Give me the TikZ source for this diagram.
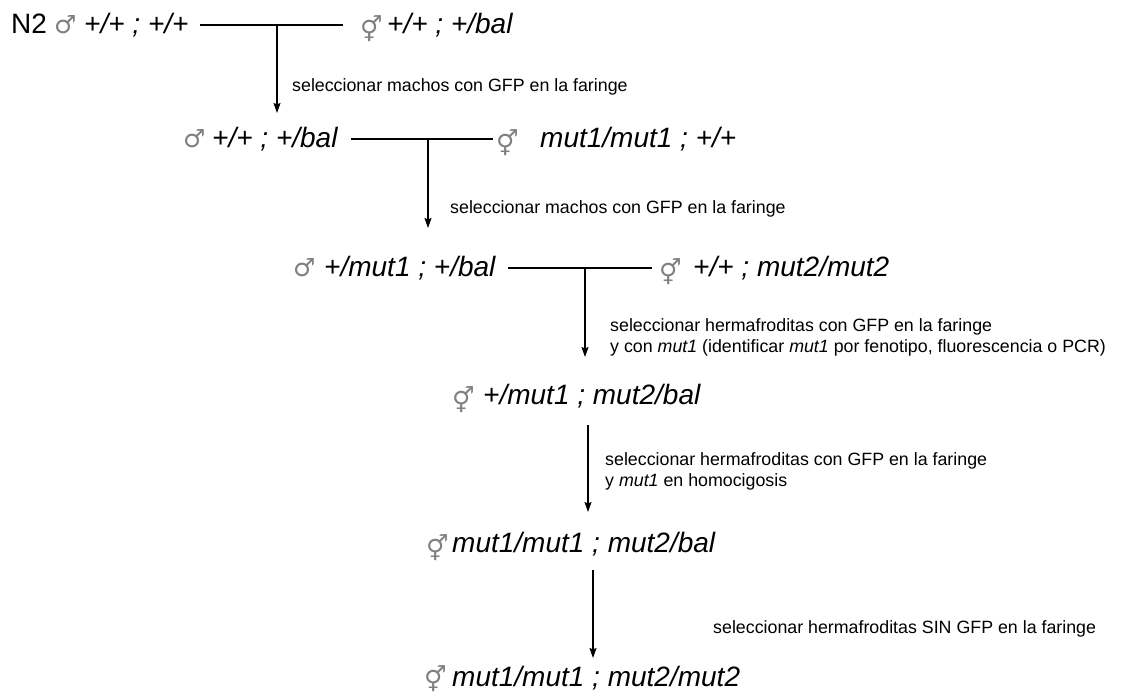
\documentclass[tikz,border=0pt]{standalone}
\usepackage{fontspec}
\setmainfont{Liberation Sans}
\newfontfamily\symfont{DejaVu Sans}
\usetikzlibrary{arrows.meta}
\begin{document}
\begin{tikzpicture}[x=1pt,y=-1pt,
  geno/.style={anchor=base west, inner sep=0pt, font=\fontsize{28}{32}\selectfont\itshape},
  plain/.style={anchor=base west, inner sep=0pt, font=\fontsize{28}{32}\selectfont},
  sexsym/.style={anchor=base west, inner sep=0pt, text=black!50, font=\symfont\fontsize{25}{30}\selectfont},
  hsym/.style={anchor=base west, inner sep=0pt, text=black!50, yshift=-5pt, font=\symfont\fontsize{25}{30}\selectfont},
  lbl/.style={anchor=base west, inner sep=0pt, font=\fontsize{17.8}{21}\selectfont, align=left},
  cross/.style={line width=1.4pt},
  arr/.style={line width=1.4pt, -{Stealth[length=10pt,width=7pt,inset=1.5pt]}}]
\useasboundingbox (0,0) rectangle (1121,696);
% row 1
\node[plain] (n2) at (11,33) {N2};
\node[sexsym] (s1a) at (54,33) {♂};
\node[geno] (g1a) at (84,33) {+/+ ; +/+};
\node[hsym] (s1b) at (360,33) {⚥};
\node[geno] (g1b) at (387,33) {+/+ ; +/bal};
\coordinate (h1l) at (200,25);
\coordinate (h1r) at (343,25);
\coordinate (m1) at (277,25);
\coordinate (t1) at (277,113);
\draw[cross] (h1l) -- (h1r);
\draw[arr] (m1) -- (t1);
\node[lbl] (l1) at (292,91) {seleccionar machos con GFP en la faringe};
% row 2
\node[sexsym] (s2a) at (183,147) {♂};
\node[geno] (g2a) at (212,147) {+/+ ; +/bal};
\node[hsym] (s2b) at (496,147) {⚥};
\node[geno] (g2b) at (540,147) {mut1/mut1 ; +/+};
\coordinate (h2l) at (351,139);
\coordinate (h2r) at (493,139);
\coordinate (m2) at (428,139);
\coordinate (t2) at (428,228);
\draw[cross] (h2l) -- (h2r);
\draw[arr] (m2) -- (t2);
\node[lbl] (l2) at (450,213) {seleccionar machos con GFP en la faringe};
% row 3
\node[sexsym] (s3a) at (293,276) {♂};
\node[geno] (g3a) at (324,276) {+/mut1 ; +/bal};
\node[hsym] (s3b) at (659,276) {⚥};
\node[geno] (g3b) at (693,276) {+/+ ; mut2/mut2};
\coordinate (h3l) at (508,268);
\coordinate (h3r) at (652,268);
\coordinate (m3) at (585,268);
\coordinate (t3) at (585,357);
\draw[cross] (h3l) -- (h3r);
\draw[arr] (m3) -- (t3);
\node[lbl] (l3) at (610,352) {seleccionar hermafroditas con GFP en la faringe\\y con \textit{mut1} (identificar \textit{mut1} por fenotipo, fluorescencia o PCR)};
% row 4
\node[hsym] (s4) at (452,404) {⚥};
\node[geno] (g4) at (483,404) {+/mut1 ; mut2/bal};
\coordinate (f4) at (588,425);
\coordinate (t4) at (588,512);
\draw[arr] (f4) -- (t4);
\node[lbl] (l4) at (605,486) {seleccionar hermafroditas con GFP en la faringe\\y \textit{mut1} en homocigosis};
% row 5
\node[hsym] (s5) at (426,552) {⚥};
\node[geno] (g5) at (452,552) {mut1/mut1 ; mut2/bal};
\coordinate (f5) at (593,570);
\coordinate (t5) at (593,658);
\draw[arr] (f5) -- (t5);
\node[lbl] (l5) at (713,633) {seleccionar hermafroditas SIN GFP en la faringe};
% row 6
\node[hsym, yshift=3pt] (s6) at (424,686) {⚥};
\node[geno] (g6) at (452,686) {mut1/mut1 ; mut2/mut2};
\end{tikzpicture}
\end{document}
